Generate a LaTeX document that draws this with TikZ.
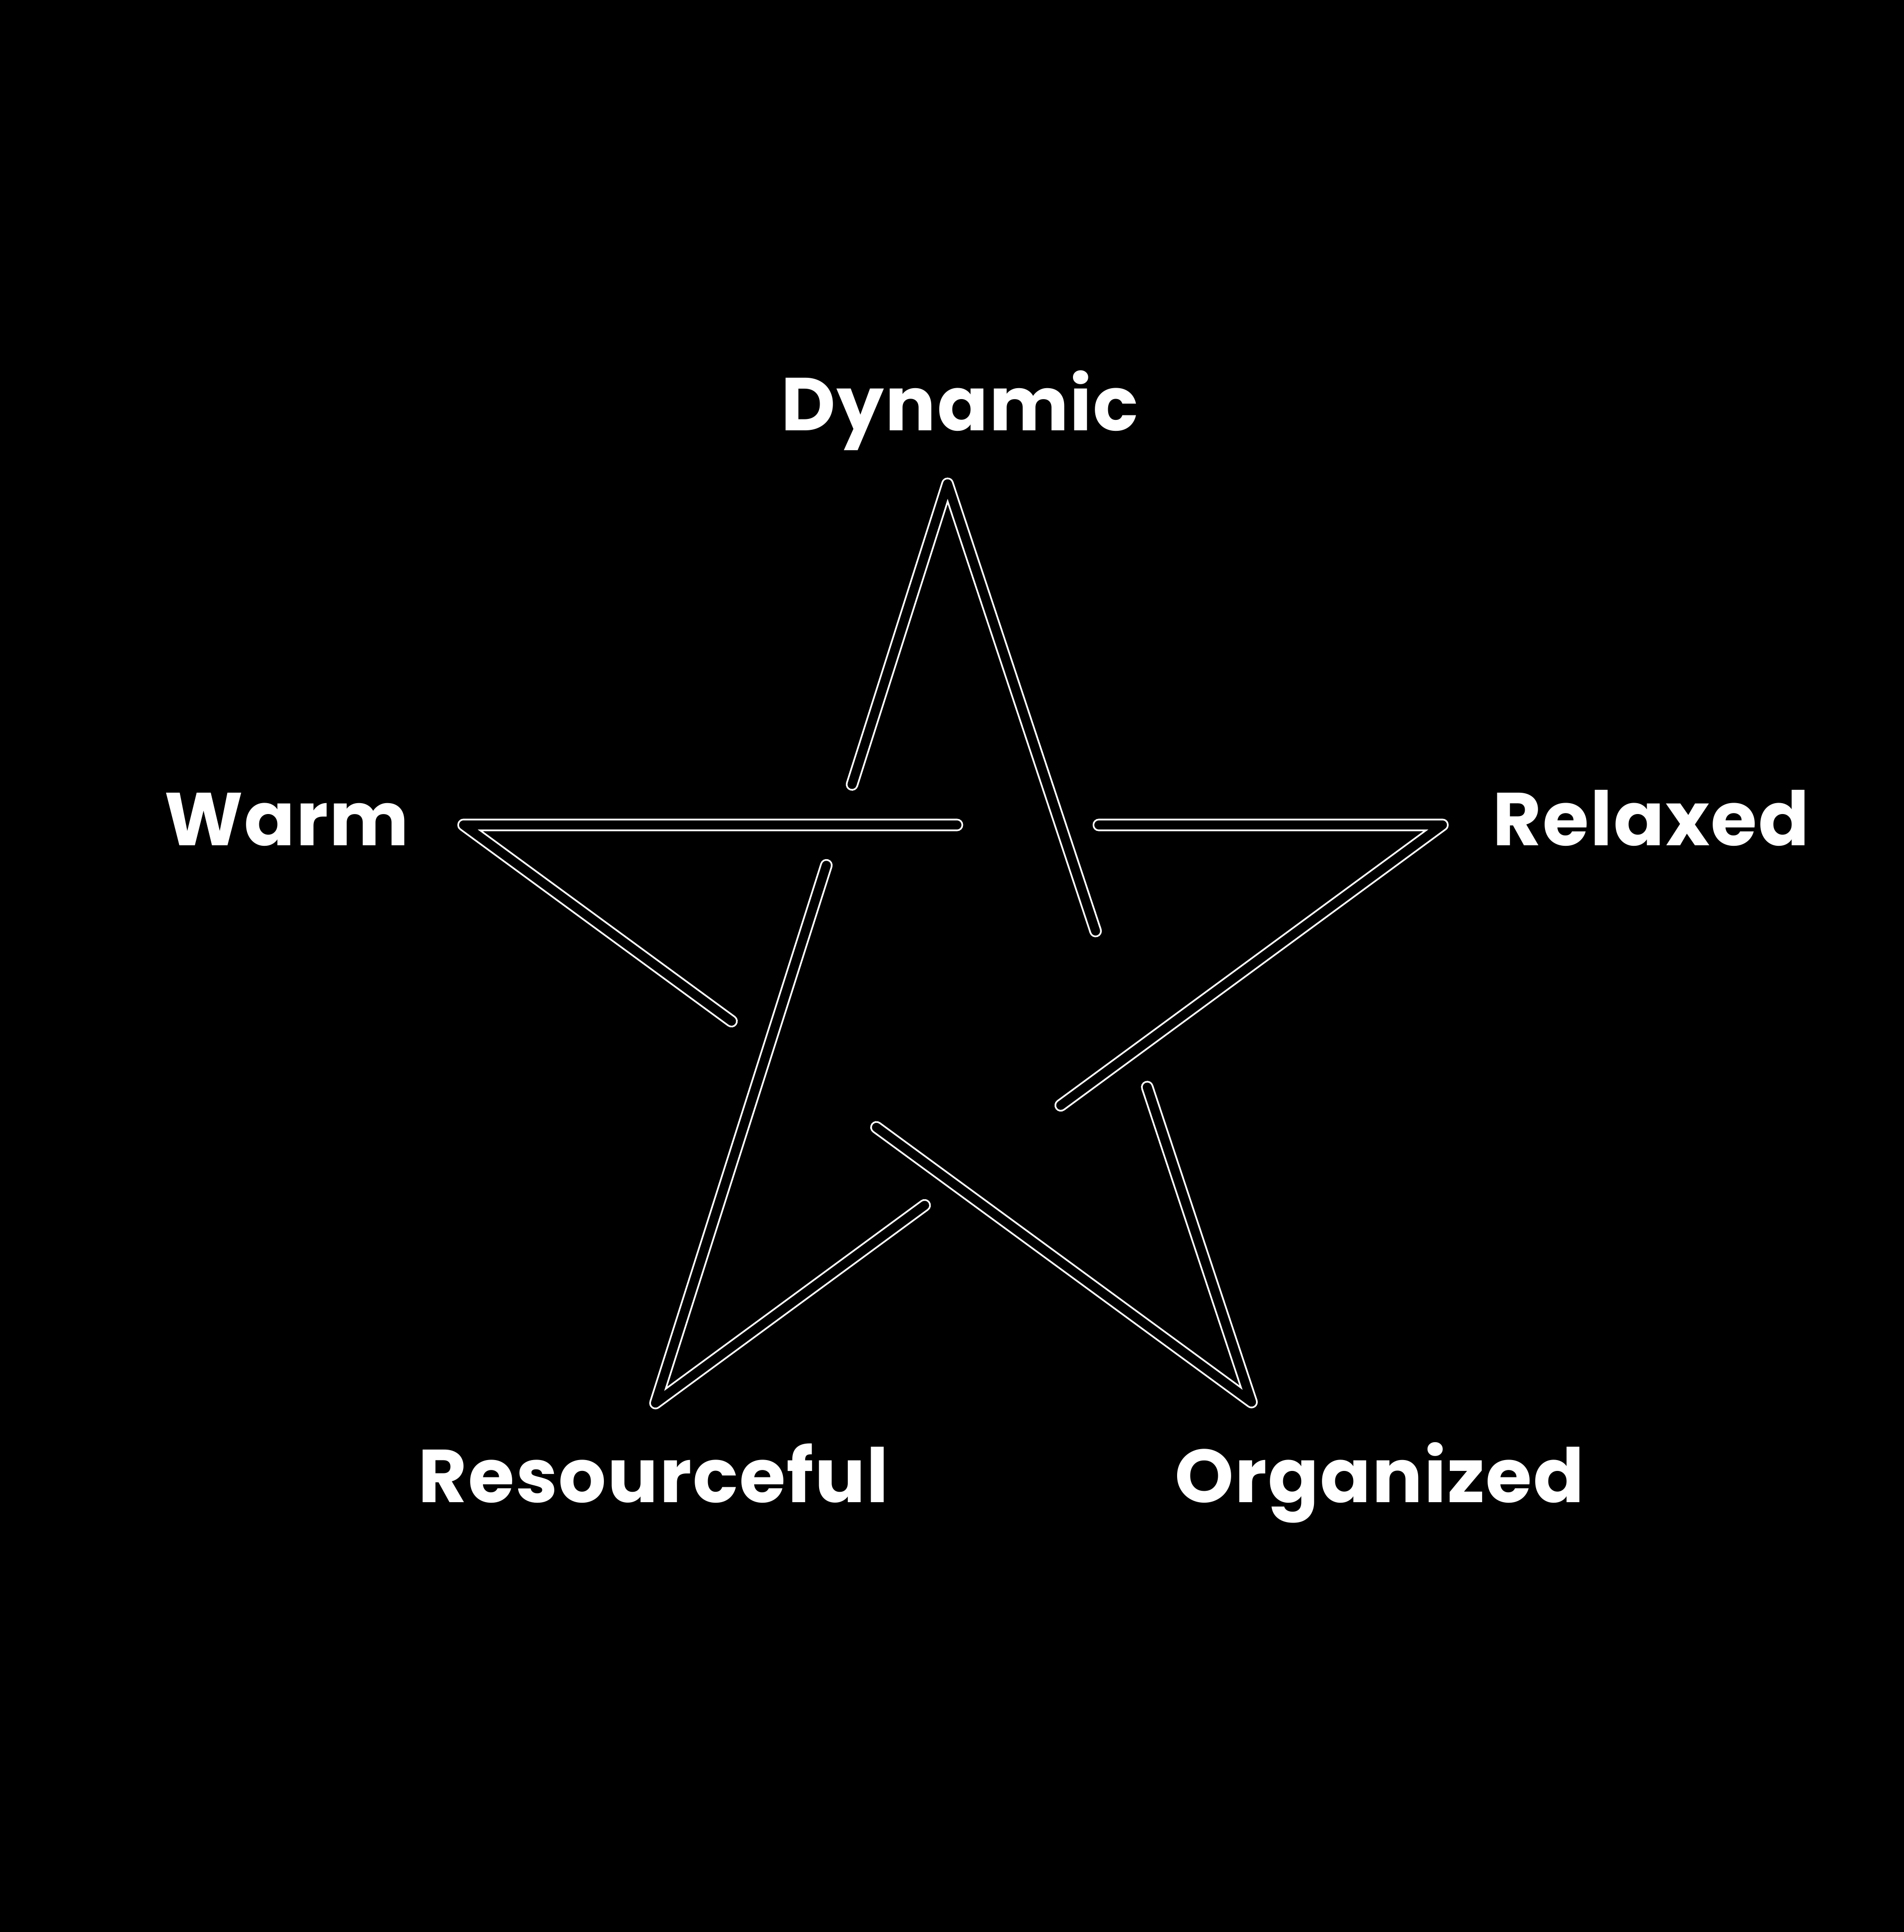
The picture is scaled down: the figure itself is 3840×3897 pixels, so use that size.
\documentclass[tikz,border=0pt]{standalone}
\usepackage{fontspec}
\setmainfont{Poppins}[LetterSpace=1.6]
\usetikzlibrary{calc}
\begin{document}
\begin{tikzpicture}[x=0.01cm,y=-0.01cm,
  arm/.style={draw=white, line width=1pt, double=black, double distance=5.2pt, line cap=round, line join=round},
  lbl/.style={text=white, font=\fontsize{43}{50}\selectfont\bfseries, inner sep=0pt, anchor=base}]
\fill[black] (0,0) rectangle (3840,3897);
\useasboundingbox (0,0) rectangle (3840,3897);
% star vertices
\coordinate (T) at (1911,976);
\coordinate (W) at (935,1664);
\coordinate (R) at (2909,1664);
\coordinate (S) at (1322,2830);
\coordinate (O) at (2524,2828);
% free ends of the five strokes
\coordinate (a1) at ($(T)!0.327!(S)$);
\coordinate (a2) at ($(T)!0.487!(O)$);
\coordinate (b1) at ($(W)!0.504!(R)$);
\coordinate (b2) at ($(W)!0.340!(O)$);
\coordinate (c1) at ($(S)!0.585!(T)$);
\coordinate (c2) at ($(S)!0.342!(R)$);
\coordinate (d1) at ($(O)!0.476!(W)$);
\coordinate (d2) at ($(O)!0.343!(T)$);
\coordinate (e1) at ($(R)!0.351!(W)$);
\coordinate (e2) at ($(R)!0.485!(S)$);
\draw[arm] (a1) -- (T) -- (a2);
\draw[arm] (b1) -- (W) -- (b2);
\draw[arm] (c1) -- (S) -- (c2);
\draw[arm] (d1) -- (O) -- (d2);
\draw[arm] (e1) -- (R) -- (e2);
% labels
\node[lbl] (dyn) at (1936,868) {Dynamic};
\node[lbl] (warm) at (578,1705) {Warm};
\node[lbl] (rel) at (3330,1705) {Relaxed};
\node[lbl] (res) at (1318,3030) {Resourceful};
\node[lbl] (org) at (2782,3030) {Organized};
\end{tikzpicture}
\end{document}
